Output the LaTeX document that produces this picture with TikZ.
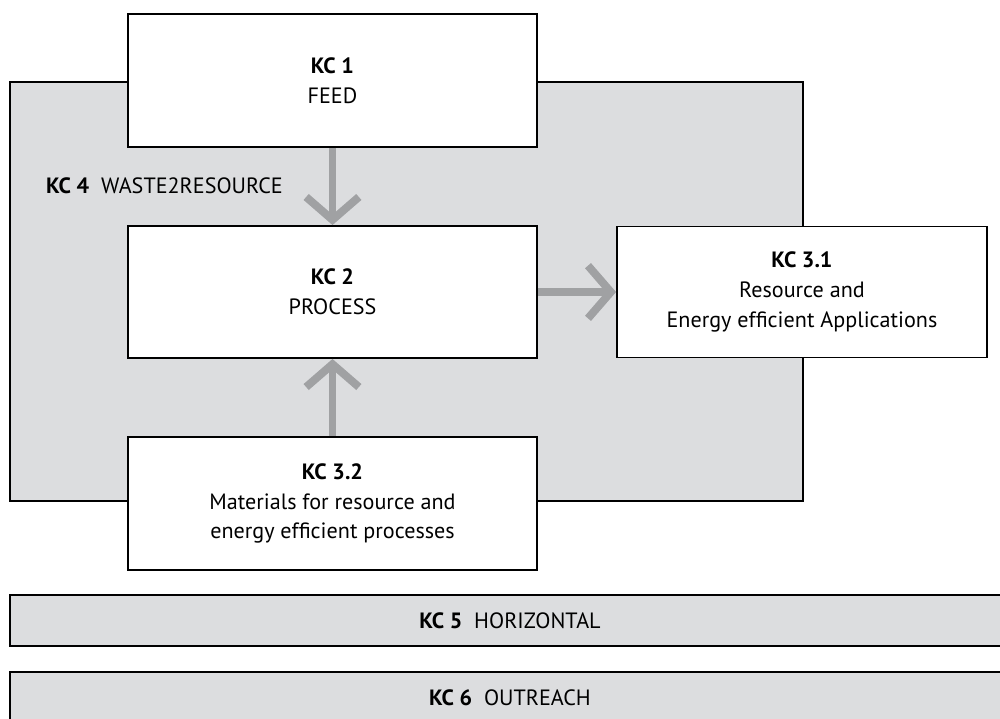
\documentclass[tikz,border=0pt]{standalone}
\usepackage{fontspec}
\setmainfont{PT Sans}
\usetikzlibrary{arrows.meta}

\definecolor{kcgrey}{HTML}{DCDDDF}
\definecolor{kcarrow}{HTML}{A0A1A3}

\tikzset{
  kcbox/.style={draw=black,line width=1.1pt,fill=white,align=center,
    inner sep=0pt,font=\fontsize{12.6}{17}\selectfont},
  kcband/.style={kcbox,fill=kcgrey},
  kcflow/.style={draw=kcarrow,line width=4.5pt,
    -{Straight Barb[length=13pt,width=30pt]}}
}

\begin{document}
\begin{tikzpicture}[x=0.02cm,y=-0.02cm]
\useasboundingbox (0,0) rectangle (1000,718);

\node[kcband,minimum width=15.86cm,minimum height=8.38cm] (kc4) at (406.5,291.5) {};
\node[anchor=west,font=\fontsize{12.6}{17}\selectfont] (kc4lbl) at (40,186)
  {\textbf{KC 4}\ \ WASTE2RESOURCE};

\node[kcbox,minimum width=8.18cm,minimum height=2.66cm] (kc1) at (332.5,80.5)
  {\textbf{KC 1}\\FEED};
\node[kcbox,minimum width=8.18cm,minimum height=2.64cm] (kc2) at (332.5,292)
  {\textbf{KC 2}\\PROCESS};
\node[kcbox,minimum width=7.4cm,minimum height=2.62cm] (kc31) at (802,292)
  {\textbf{KC 3.1}\\Resource and\\Energy efficient Applications};
\node[kcbox,minimum width=8.18cm,minimum height=2.66cm] (kc32) at (332.5,503.5)
  {\textbf{KC 3.2}\\Materials for resource and\\energy efficient processes};

\node[kcband,minimum width=20cm,minimum height=1.02cm] (kc5) at (510,620.5)
  {\textbf{KC 5}\ \ HORIZONTAL};
\node[kcband,minimum width=20cm,minimum height=1.02cm] (kc6) at (510,697.5)
  {\textbf{KC 6}\ \ OUTREACH};

\draw[kcflow] (kc1) -- (kc2);
\draw[kcflow] (kc2) -- (kc31);
\draw[kcflow] (kc32) -- (kc2);
\end{tikzpicture}
\end{document}
